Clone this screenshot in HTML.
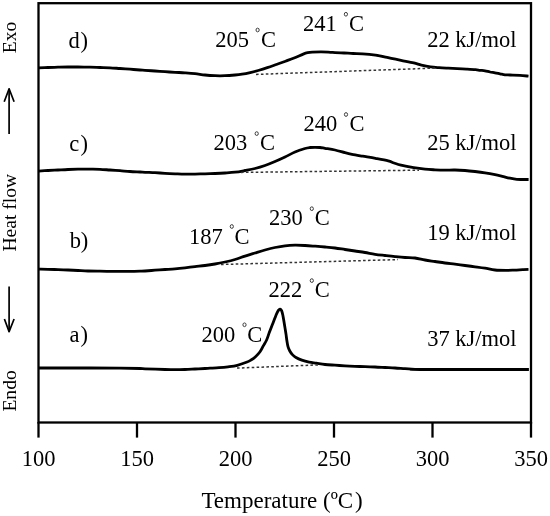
<!DOCTYPE html>
<html><head><meta charset="utf-8"><style>
html,body{margin:0;padding:0;background:#fff;width:550px;height:516px;overflow:hidden}
svg{display:block;will-change:transform;font-family:"Liberation Serif",serif;fill:#000}
</style></head><body>
<svg width="550" height="516" viewBox="0 0 550 516">
<rect x="38.5" y="3.2" width="492.5" height="419.3" fill="none" stroke="#000" stroke-width="2.3"/>
<line x1="38.50" y1="422" x2="38.50" y2="437.6" stroke="#000" stroke-width="2.3"/>
<text x="38.50" y="465.6" text-anchor="middle" font-size="22.5">100</text>
<line x1="137.00" y1="422" x2="137.00" y2="437.6" stroke="#000" stroke-width="2.3"/>
<text x="137.00" y="465.6" text-anchor="middle" font-size="22.5">150</text>
<line x1="235.50" y1="422" x2="235.50" y2="437.6" stroke="#000" stroke-width="2.3"/>
<text x="235.50" y="465.6" text-anchor="middle" font-size="22.5">200</text>
<line x1="334.00" y1="422" x2="334.00" y2="437.6" stroke="#000" stroke-width="2.3"/>
<text x="334.00" y="465.6" text-anchor="middle" font-size="22.5">250</text>
<line x1="432.50" y1="422" x2="432.50" y2="437.6" stroke="#000" stroke-width="2.3"/>
<text x="432.50" y="465.6" text-anchor="middle" font-size="22.5">300</text>
<line x1="531.00" y1="422" x2="531.00" y2="437.6" stroke="#000" stroke-width="2.3"/>
<text x="531.00" y="465.6" text-anchor="middle" font-size="22.5">350</text>
<text x="201.4" y="508.1" font-size="23">Temperature (ºC<tspan dx="1.8">)</tspan></text>
<path d="M38.50,67.90 C40.08,67.83 44.75,67.62 48.00,67.50 C51.25,67.38 54.67,67.28 58.00,67.20 C61.33,67.12 64.67,67.03 68.00,67.00 C71.33,66.97 74.33,66.97 78.00,67.00 C81.67,67.03 86.33,67.12 90.00,67.20 C93.67,67.28 96.67,67.40 100.00,67.50 C103.33,67.60 106.67,67.63 110.00,67.80 C113.33,67.97 116.67,68.27 120.00,68.50 C123.33,68.73 126.67,68.95 130.00,69.20 C133.33,69.45 137.50,69.82 140.00,70.00 C142.50,70.18 142.50,70.13 145.00,70.30 C147.50,70.47 151.67,70.77 155.00,71.00 C158.33,71.23 161.67,71.48 165.00,71.70 C168.33,71.92 171.67,72.12 175.00,72.30 C178.33,72.48 181.67,72.58 185.00,72.80 C188.33,73.02 191.67,73.23 195.00,73.60 C198.33,73.97 201.67,74.65 205.00,75.00 C208.33,75.35 211.67,75.58 215.00,75.70 C218.33,75.82 221.67,75.82 225.00,75.70 C228.33,75.58 232.17,75.25 235.00,75.00 C237.83,74.75 239.65,74.55 242.00,74.20 C244.35,73.85 246.40,73.52 249.10,72.90 C251.80,72.28 255.17,71.37 258.20,70.50 C261.23,69.63 264.27,68.70 267.30,67.70 C270.33,66.70 273.37,65.58 276.40,64.50 C279.43,63.42 282.55,62.28 285.50,61.20 C288.45,60.12 291.15,59.18 294.10,58.00 C297.05,56.82 300.93,54.98 303.20,54.10 C305.47,53.22 306.18,53.03 307.70,52.70 C309.22,52.37 310.02,52.25 312.30,52.10 C314.58,51.95 318.37,51.77 321.40,51.80 C324.43,51.83 328.23,52.17 330.50,52.30 C332.77,52.43 332.73,52.48 335.00,52.60 C337.27,52.72 341.07,52.85 344.10,53.00 C347.13,53.15 350.10,53.37 353.20,53.50 C356.30,53.63 358.98,53.52 362.70,53.80 C366.42,54.08 371.25,54.57 375.50,55.20 C379.75,55.83 383.95,56.75 388.20,57.60 C392.45,58.45 396.75,59.42 401.00,60.30 C405.25,61.18 410.30,62.10 413.70,62.90 C417.10,63.70 418.60,64.43 421.40,65.10 C424.20,65.77 427.55,66.47 430.50,66.90 C433.45,67.33 436.15,67.48 439.10,67.70 C442.05,67.92 445.17,68.05 448.20,68.20 C451.23,68.35 454.27,68.45 457.30,68.60 C460.33,68.75 463.37,68.92 466.40,69.10 C469.43,69.28 473.23,69.50 475.50,69.70 C477.77,69.90 478.42,70.12 480.00,70.30 C481.58,70.48 483.33,70.52 485.00,70.80 C486.67,71.08 488.33,71.67 490.00,72.00 C491.67,72.33 493.33,72.50 495.00,72.80 C496.67,73.10 498.33,73.47 500.00,73.80 C501.67,74.13 503.33,74.60 505.00,74.80 C506.67,75.00 507.50,74.92 510.00,75.00 C512.50,75.08 516.92,75.10 520.00,75.30 C523.08,75.50 527.08,76.05 528.50,76.20" fill="none" stroke="#000" stroke-width="2.8" stroke-linejoin="round"/>
<path d="M38.50,171.10 C40.08,171.00 44.75,170.68 48.00,170.50 C51.25,170.32 54.67,170.17 58.00,170.00 C61.33,169.83 64.67,169.63 68.00,169.50 C71.33,169.37 74.33,169.25 78.00,169.20 C81.67,169.15 86.33,169.18 90.00,169.20 C93.67,169.22 96.67,169.17 100.00,169.30 C103.33,169.43 106.67,169.77 110.00,170.00 C113.33,170.23 116.67,170.45 120.00,170.70 C123.33,170.95 126.67,171.28 130.00,171.50 C133.33,171.72 137.50,171.87 140.00,172.00 C142.50,172.13 142.50,172.18 145.00,172.30 C147.50,172.42 151.67,172.53 155.00,172.70 C158.33,172.87 161.67,173.12 165.00,173.30 C168.33,173.48 171.67,173.65 175.00,173.80 C178.33,173.95 181.67,174.15 185.00,174.20 C188.33,174.25 191.67,174.17 195.00,174.10 C198.33,174.03 201.67,173.90 205.00,173.80 C208.33,173.70 211.67,173.63 215.00,173.50 C218.33,173.37 221.67,173.22 225.00,173.00 C228.33,172.78 231.67,172.62 235.00,172.20 C238.33,171.78 241.67,171.12 245.00,170.50 C248.33,169.88 251.67,169.33 255.00,168.50 C258.33,167.67 261.67,166.67 265.00,165.50 C268.33,164.33 271.67,162.92 275.00,161.50 C278.33,160.08 281.67,158.58 285.00,157.00 C288.33,155.42 291.67,153.42 295.00,152.00 C298.33,150.58 302.50,149.25 305.00,148.50 C307.50,147.75 308.33,147.70 310.00,147.50 C311.67,147.30 313.33,147.30 315.00,147.30 C316.67,147.30 318.33,147.33 320.00,147.50 C321.67,147.67 322.50,147.88 325.00,148.30 C327.50,148.72 331.67,149.27 335.00,150.00 C338.33,150.73 342.17,151.98 345.00,152.70 C347.83,153.42 349.05,153.72 352.00,154.30 C354.95,154.88 358.78,155.52 362.70,156.20 C366.62,156.88 371.25,157.62 375.50,158.40 C379.75,159.18 385.12,160.13 388.20,160.90 C391.28,161.67 391.87,162.28 394.00,163.00 C396.13,163.72 397.72,164.42 401.00,165.20 C404.28,165.98 409.70,167.03 413.70,167.70 C417.70,168.37 421.45,168.85 425.00,169.20 C428.55,169.55 431.67,169.65 435.00,169.80 C438.33,169.95 441.67,170.07 445.00,170.10 C448.33,170.13 451.67,169.93 455.00,170.00 C458.33,170.07 461.67,170.25 465.00,170.50 C468.33,170.75 471.67,171.12 475.00,171.50 C478.33,171.88 481.67,172.28 485.00,172.80 C488.33,173.32 492.12,174.02 495.00,174.60 C497.88,175.18 499.88,175.72 502.30,176.30 C504.72,176.88 507.08,177.58 509.50,178.10 C511.92,178.62 514.38,179.17 516.80,179.40 C519.22,179.63 522.03,179.48 524.00,179.50 C525.97,179.52 527.83,179.50 528.60,179.50" fill="none" stroke="#000" stroke-width="2.8" stroke-linejoin="round"/>
<path d="M38.50,269.20 C40.08,269.22 44.75,269.23 48.00,269.30 C51.25,269.37 54.67,269.48 58.00,269.60 C61.33,269.72 64.67,269.85 68.00,270.00 C71.33,270.15 74.67,270.33 78.00,270.50 C81.33,270.67 84.33,270.88 88.00,271.00 C91.67,271.12 96.33,271.15 100.00,271.20 C103.67,271.25 106.67,271.28 110.00,271.30 C113.33,271.32 116.67,271.28 120.00,271.30 C123.33,271.32 126.67,271.42 130.00,271.40 C133.33,271.38 137.50,271.27 140.00,271.20 C142.50,271.13 142.50,271.17 145.00,271.00 C147.50,270.83 151.67,270.45 155.00,270.20 C158.33,269.95 161.67,269.73 165.00,269.50 C168.33,269.27 171.67,269.08 175.00,268.80 C178.33,268.52 181.67,268.17 185.00,267.80 C188.33,267.43 191.67,266.98 195.00,266.60 C198.33,266.22 201.67,265.93 205.00,265.50 C208.33,265.07 211.67,264.58 215.00,264.00 C218.33,263.42 221.67,262.75 225.00,262.00 C228.33,261.25 231.67,260.48 235.00,259.50 C238.33,258.52 241.67,257.18 245.00,256.10 C248.33,255.02 251.67,254.02 255.00,253.00 C258.33,251.98 261.67,250.92 265.00,250.00 C268.33,249.08 271.67,248.20 275.00,247.50 C278.33,246.80 281.67,246.18 285.00,245.80 C288.33,245.42 291.67,245.25 295.00,245.20 C298.33,245.15 301.67,245.33 305.00,245.50 C308.33,245.67 311.67,245.95 315.00,246.20 C318.33,246.45 321.67,246.70 325.00,247.00 C328.33,247.30 331.67,247.58 335.00,248.00 C338.33,248.42 341.67,249.00 345.00,249.50 C348.33,250.00 351.67,250.50 355.00,251.00 C358.33,251.50 361.67,251.95 365.00,252.50 C368.33,253.05 371.67,253.80 375.00,254.30 C378.33,254.80 381.67,255.12 385.00,255.50 C388.33,255.88 391.67,256.27 395.00,256.60 C398.33,256.93 401.67,257.27 405.00,257.50 C408.33,257.73 411.67,257.58 415.00,258.00 C418.33,258.42 421.67,259.42 425.00,260.00 C428.33,260.58 431.67,261.00 435.00,261.50 C438.33,262.00 441.67,262.55 445.00,263.00 C448.33,263.45 451.67,263.78 455.00,264.20 C458.33,264.62 461.67,265.07 465.00,265.50 C468.33,265.93 471.67,266.35 475.00,266.80 C478.33,267.25 481.67,267.67 485.00,268.20 C488.33,268.73 491.43,269.63 495.00,270.00 C498.57,270.37 503.15,270.38 506.40,270.40 C509.65,270.42 511.78,270.23 514.50,270.10 C517.22,269.97 520.37,269.73 522.70,269.60 C525.03,269.47 527.53,269.35 528.50,269.30" fill="none" stroke="#000" stroke-width="2.8" stroke-linejoin="round"/>
<path d="M38.50,368.00 C47.08,368.00 76.42,367.97 90.00,368.00 C103.58,368.03 111.67,368.12 120.00,368.20 C128.33,368.28 135.83,368.40 140.00,368.50 C144.17,368.60 140.83,368.63 145.00,368.80 C149.17,368.97 160.00,369.35 165.00,369.50 C170.00,369.65 171.67,369.70 175.00,369.70 C178.33,369.70 181.67,369.62 185.00,369.50 C188.33,369.38 191.67,369.17 195.00,369.00 C198.33,368.83 202.50,368.63 205.00,368.50 C207.50,368.37 207.67,368.33 210.00,368.20 C212.33,368.07 216.00,367.93 219.00,367.70 C222.00,367.47 224.95,367.20 228.00,366.80 C231.05,366.40 234.23,366.05 237.30,365.30 C240.37,364.55 244.12,363.18 246.40,362.30 C248.68,361.42 249.48,360.92 251.00,360.00 C252.52,359.08 254.00,358.17 255.50,356.80 C257.00,355.43 258.70,353.62 260.00,351.80 C261.30,349.98 262.20,347.87 263.30,345.90 C264.40,343.93 265.60,342.22 266.60,340.00 C267.60,337.78 268.40,335.00 269.30,332.60 C270.20,330.20 271.10,327.93 272.00,325.60 C272.90,323.27 273.92,320.60 274.70,318.60 C275.48,316.60 276.05,315.02 276.70,313.60 C277.35,312.18 278.05,310.85 278.60,310.10 C279.15,309.35 279.48,308.97 280.00,309.10 C280.52,309.23 281.22,309.83 281.70,310.90 C282.18,311.97 282.52,313.70 282.90,315.50 C283.28,317.30 283.65,319.63 284.00,321.70 C284.35,323.77 284.67,325.83 285.00,327.90 C285.33,329.97 285.68,331.95 286.00,334.10 C286.32,336.25 286.57,338.72 286.90,340.80 C287.23,342.88 287.52,344.90 288.00,346.60 C288.48,348.30 289.07,349.67 289.80,351.00 C290.53,352.33 291.37,353.52 292.40,354.60 C293.43,355.68 294.43,356.58 296.00,357.50 C297.57,358.42 299.62,359.33 301.80,360.10 C303.98,360.87 306.67,361.58 309.10,362.10 C311.53,362.62 313.75,362.80 316.40,363.20 C319.05,363.60 321.90,364.17 325.00,364.50 C328.10,364.83 331.67,364.98 335.00,365.20 C338.33,365.42 341.67,365.62 345.00,365.80 C348.33,365.98 351.67,366.15 355.00,366.30 C358.33,366.45 361.67,366.58 365.00,366.70 C368.33,366.82 371.67,366.87 375.00,367.00 C378.33,367.13 381.67,367.33 385.00,367.50 C388.33,367.67 391.67,367.80 395.00,368.00 C398.33,368.20 401.67,368.48 405.00,368.70 C408.33,368.92 412.50,369.17 415.00,369.30 C417.50,369.43 401.02,369.47 420.00,369.50 C438.98,369.53 510.75,369.50 528.90,369.50" fill="none" stroke="#000" stroke-width="2.8" stroke-linejoin="round"/>
<line x1="256" y1="74.4" x2="435" y2="68.1" stroke="#333" stroke-width="1.5" stroke-dasharray="2.6 2.3"/>
<line x1="241" y1="172.4" x2="419" y2="170.2" stroke="#333" stroke-width="1.5" stroke-dasharray="2.6 2.3"/>
<line x1="221" y1="264.5" x2="398" y2="259.6" stroke="#333" stroke-width="1.5" stroke-dasharray="2.6 2.3"/>
<line x1="237" y1="368.1" x2="318" y2="364.9" stroke="#333" stroke-width="1.5" stroke-dasharray="2.6 2.3"/>
<text x="68.5" y="47.5" font-size="22.5">d<tspan dx="0.7">)</tspan></text>
<text x="69.3" y="150.9" font-size="22.5">c<tspan dx="1.1">)</tspan></text>
<text x="69.7" y="247.7" font-size="22.5">b<tspan dx="-0.3">)</tspan></text>
<text x="69.5" y="342.1" font-size="22.5">a<tspan dx="0.9">)</tspan></text>
<text x="427.2" y="46.6" font-size="22.5">22 kJ/mol</text>
<text x="427.2" y="149.7" font-size="22.5">25 kJ/mol</text>
<text x="427.2" y="239.8" font-size="22.5">19 kJ/mol</text>
<text x="427.2" y="345.9" font-size="22.5">37 kJ/mol</text>
<text x="215.3" y="47.2" font-size="22.5">205</text><text x="260.9" y="47.2" font-size="22.5">C</text>
<ellipse cx="257.6" cy="30.0" rx="1.6" ry="1.85" fill="none" stroke="#3a3a3a" stroke-width="1.0"/>
<text x="303.0" y="31.3" font-size="22.5">241</text><text x="349.1" y="31.3" font-size="22.5">C</text>
<ellipse cx="345.9" cy="14.25" rx="1.6" ry="1.85" fill="none" stroke="#3a3a3a" stroke-width="1.0"/>
<text x="213.4" y="150.3" font-size="22.5">203</text><text x="259.9" y="150.3" font-size="22.5">C</text>
<ellipse cx="256.7" cy="133.6" rx="1.6" ry="1.85" fill="none" stroke="#3a3a3a" stroke-width="1.0"/>
<text x="303.4" y="130.9" font-size="22.5">240</text><text x="349.5" y="130.9" font-size="22.5">C</text>
<ellipse cx="346.0" cy="114.5" rx="1.6" ry="1.85" fill="none" stroke="#3a3a3a" stroke-width="1.0"/>
<text x="189.1" y="243.6" font-size="22.5">187</text><text x="234.5" y="243.6" font-size="22.5">C</text>
<ellipse cx="231.8" cy="226.5" rx="1.6" ry="1.85" fill="none" stroke="#3a3a3a" stroke-width="1.0"/>
<text x="269.0" y="225.3" font-size="22.5">230</text><text x="314.8" y="225.3" font-size="22.5">C</text>
<ellipse cx="311.8" cy="208.7" rx="1.6" ry="1.85" fill="none" stroke="#3a3a3a" stroke-width="1.0"/>
<text x="201.6" y="341.7" font-size="22.5">200</text><text x="247.2" y="341.7" font-size="22.5">C</text>
<ellipse cx="244.5" cy="324.8" rx="1.6" ry="1.85" fill="none" stroke="#3a3a3a" stroke-width="1.0"/>
<text x="268.5" y="297.0" font-size="22.5">222</text><text x="314.8" y="297.0" font-size="22.5">C</text>
<ellipse cx="311.8" cy="280.6" rx="1.6" ry="1.85" fill="none" stroke="#3a3a3a" stroke-width="1.0"/>
<text transform="translate(15.8,53.3) rotate(-90)" font-size="19.6">Exo</text>
<text transform="translate(15.8,251.6) rotate(-90)" font-size="19.6">Heat flow</text>
<text transform="translate(15.8,411.6) rotate(-90)" font-size="19.6">Endo</text>
<g fill="none" stroke="#000" stroke-width="1.7" stroke-linecap="butt" stroke-linejoin="round">
<line x1="9.1" y1="88.8" x2="9.1" y2="134"/><polyline points="4.2,101.7 9.1,88.8 14.1,101.7"/>
<line x1="9.1" y1="286.4" x2="9.1" y2="331.6"/><polyline points="4.4,319 9.1,331.6 14.1,319"/>
</g>
</svg>
</body></html>
